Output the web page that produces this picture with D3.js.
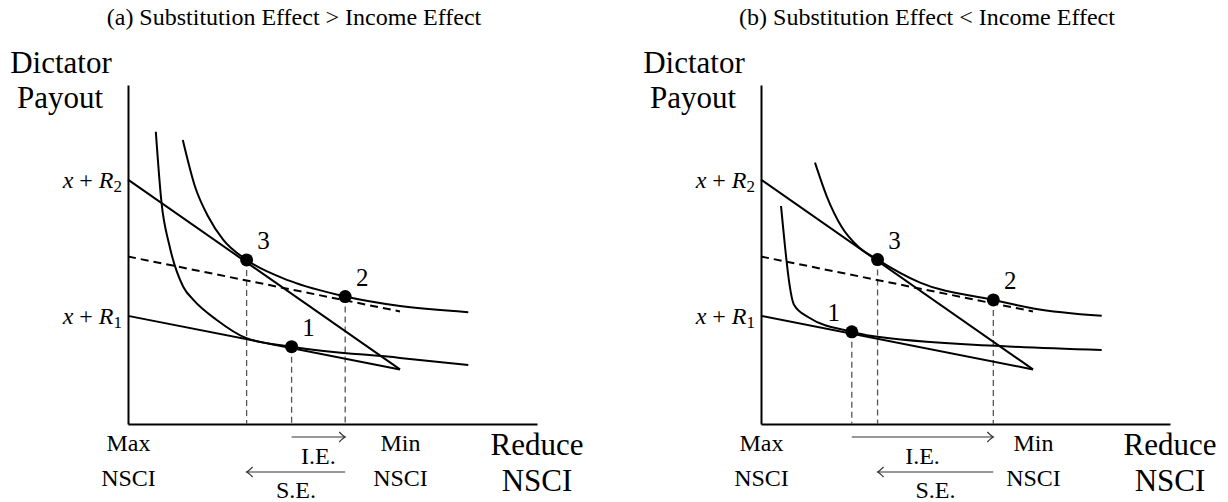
<!DOCTYPE html>
<html>
<head>
<meta charset="utf-8">
<script src="https://cdn.jsdelivr.net/npm/d3@7"></script>
<style>
  body { margin: 0; background: #fff; }
  svg text { font-family: "Liberation Serif", "DejaVu Serif", serif; fill: #000; }
</style>
</head>
<body>
<script>
// panel titles
var panelTitles = ["(a) Substitution Effect > Income Effect",
                   "(b) Substitution Effect < Income Effect"];

// budget lines (same in both panels), [nsci reduction, payout]
var budgetR2 = [[0, 7.21], [6.65, 1.61]];
var budgetR1 = [[0, 3.19], [6.65, 1.61]];
var budgetComp = [[0, 4.94], [6.65, 3.32]];

// indifference curves, panel a
var upperA = [[1.34, 8.38], [1.64, 7.00], [1.96, 6.12], [2.33, 5.43], [2.90, 4.84],
              [3.96, 4.22], [5.31, 3.76], [6.65, 3.48], [8.32, 3.30]];
var lowerA = [[0.68, 8.62], [0.82, 6.52], [1.01, 5.28], [1.35, 4.05], [1.60, 3.66],
              [2.17, 3.07], [2.90, 2.53], [4.00, 2.28], [6.65, 1.95], [8.32, 1.74]];
// indifference curves, panel b
var upperB = [[1.32, 7.71], [1.61, 6.71], [1.97, 5.82], [2.38, 5.23], [2.85, 4.85],
              [3.89, 4.17], [5.68, 3.66], [6.66, 3.41], [8.33, 3.19]];
var lowerB = [[0.49, 6.43], [0.81, 3.51], [1.16, 3.15], [2.22, 2.72], [2.67, 2.60],
              [5.85, 2.30], [8.33, 2.18]];

// equilibrium points
var pointsA = [{id: "1", x: 4.00, y: 2.28}, {id: "2", x: 5.31, y: 3.76}, {id: "3", x: 2.90, y: 4.84}];
var pointsB = [{id: "1", x: 2.22, y: 2.72}, {id: "2", x: 5.68, y: 3.66}, {id: "3", x: 2.85, y: 4.85}];

// tick labels
var yTicks = [{v: 3.19, sub: "1"}, {v: 7.21, sub: "2"}];
var xTicks = [{v: 0, lines: ["Max", "NSCI"]}, {v: 6.65, lines: ["Min", "NSCI"]}];

var W = 1228, H = 502;
var plotW = 409, plotTop = 85, plotBottom = 424;

var svg = d3.select("body").append("svg")
    .attr("width", W)
    .attr("height", H)
    .attr("font-family", "Liberation Serif, serif");

var x = d3.scaleLinear().domain([0, 10]).range([0, plotW]);
var y = d3.scaleLinear().domain([0, 10]).range([plotBottom, plotTop]);

var line = d3.line()
    .x(function(d) { return x(d[0]); })
    .y(function(d) { return y(d[1]); });
var curve = d3.line()
    .curve(d3.curveMonotoneX)
    .x(function(d) { return x(d[0]); })
    .y(function(d) { return y(d[1]); });

var panels = [
  {left: 128, title: panelTitles[0], upper: upperA, lower: lowerA, points: pointsA},
  {left: 761, title: panelTitles[1], upper: upperB, lower: lowerB, points: pointsB}
];

panels.forEach(function(p, pi) {
  var g = svg.append("g").attr("transform", "translate(" + p.left + ",0)");

  g.append("text")
      .attr("x", 166).attr("y", 25)
      .attr("text-anchor", "middle")
      .style("font-size", "24px")
      .text(p.title);

  // y axis label
  g.append("text").attr("x", -67).attr("y", 73).attr("text-anchor", "middle")
      .style("font-size", "31px").text("Dictator");
  g.append("text").attr("x", -68).attr("y", 108).attr("text-anchor", "middle")
      .style("font-size", "31px").text("Payout");

  // axes
  var yAxis = g.append("g")
      .call(d3.axisLeft(y).tickValues(yTicks.map(function(d) { return d.v; }))
        .tickSize(0).tickSizeOuter(0).tickPadding(6));
  yAxis.attr("font-family", null);
  yAxis.select(".domain").attr("stroke", "#000").attr("stroke-width", 2);
  yAxis.selectAll(".tick text")
      .style("font-size", "24px")
      .text(null)
      .each(function(v) {
        var t = d3.select(this);
        var sub = yTicks.find(function(d) { return d.v === v; }).sub;
        t.append("tspan").style("font-style", "italic").text("x");
        t.append("tspan").text(" + ");
        t.append("tspan").style("font-style", "italic").text("R");
        t.append("tspan").attr("dy", "0.25em").style("font-size", "17px").text(sub);
      });

  var xAxis = g.append("g")
      .attr("transform", "translate(0," + plotBottom + ")")
      .call(d3.axisBottom(x).tickValues(xTicks.map(function(d) { return d.v; }))
        .tickSize(0).tickSizeOuter(0).tickFormat(""));
  xAxis.attr("font-family", null);
  xAxis.select(".domain").attr("stroke", "#000").attr("stroke-width", 2);
  xAxis.selectAll(".tick text").remove();
  xAxis.selectAll(".tick").each(function(v) {
    var lines = xTicks.find(function(d) { return d.v === v; }).lines;
    d3.select(this).selectAll("text.lbl").data(lines).enter().append("text")
        .attr("class", "lbl")
        .attr("y", function(d, i) { return 27 + i * 35; })
        .attr("text-anchor", "middle")
        .style("font-size", "24px")
        .text(function(d) { return d; });
  });
  g.append("text").attr("x", x(10)).attr("y", plotBottom + 31).attr("text-anchor", "middle")
      .style("font-size", "31px").text("Reduce");
  g.append("text").attr("x", x(10)).attr("y", plotBottom + 67).attr("text-anchor", "middle")
      .style("font-size", "31px").text("NSCI");

  // vertical guides from points
  g.selectAll(".guide").data(p.points).enter().append("line")
      .attr("x1", function(d) { return x(d.x); })
      .attr("x2", function(d) { return x(d.x); })
      .attr("y1", function(d) { return y(d.y); })
      .attr("y2", y(0))
      .attr("stroke", "#555").attr("stroke-width", 1.3)
      .attr("stroke-dasharray", "6,4");

  // budget lines
  g.append("path").datum(budgetComp).attr("d", line)
      .attr("fill", "none").attr("stroke", "#000").attr("stroke-width", 2)
      .attr("stroke-dasharray", "8,5");
  [budgetR2, budgetR1].forEach(function(b) {
    g.append("path").datum(b).attr("d", line)
        .attr("fill", "none").attr("stroke", "#000").attr("stroke-width", 2);
  });

  // indifference curves
  [p.upper, p.lower].forEach(function(c) {
    g.append("path").datum(c).attr("d", curve)
        .attr("fill", "none").attr("stroke", "#000").attr("stroke-width", 2);
  });

  // points and numbers
  g.selectAll(".pt").data(p.points).enter().append("circle")
      .attr("cx", function(d) { return x(d.x); })
      .attr("cy", function(d) { return y(d.y); })
      .attr("r", 6.5).attr("fill", "#000");
  g.selectAll(".num").data(p.points).enter().append("text")
      .attr("x", function(d) { return x(d.x) + ((pi === 1 && d.id === "1") ? -18 : 17); })
      .attr("y", function(d) { return y(d.y) - 19; })
      .attr("text-anchor", "middle")
      .attr("dominant-baseline", "central")
      .style("font-size", "25px")
      .text(function(d) { return d.id; });

  // income / substitution effect arrows
  var byId = {};
  p.points.forEach(function(d) { byId[d.id] = d; });
  var arrows = [
    {from: byId["1"].x, to: byId["2"].x, yy: plotBottom + 13, label: "I.E.", ly: plotBottom + 40},
    {from: byId["2"].x, to: byId["3"].x, yy: plotBottom + 48, label: "S.E.", ly: plotBottom + 74}
  ];
  arrows.forEach(function(a) {
    var x1 = x(a.from), x2 = x(a.to), dir = x2 > x1 ? 1 : -1;
    g.append("line").attr("x1", x1).attr("x2", x2).attr("y1", a.yy).attr("y2", a.yy)
        .attr("stroke", "#333").attr("stroke-width", 1.2);
    g.append("path")
        .attr("d", "M" + (x2 - dir * 6) + "," + (a.yy - 5) + " Q" + (x2 - dir * 2) + "," + (a.yy - 1) + " " + x2 + "," + a.yy +
                   " Q" + (x2 - dir * 2) + "," + (a.yy + 1) + " " + (x2 - dir * 6) + "," + (a.yy + 5))
        .attr("fill", "none").attr("stroke", "#333").attr("stroke-width", 1.2);
    g.append("text").attr("x", (x1 + x2) / 2).attr("y", a.ly)
        .attr("text-anchor", "middle").style("font-size", "24px").text(a.label);
  });
});
</script>
</body>
</html>
